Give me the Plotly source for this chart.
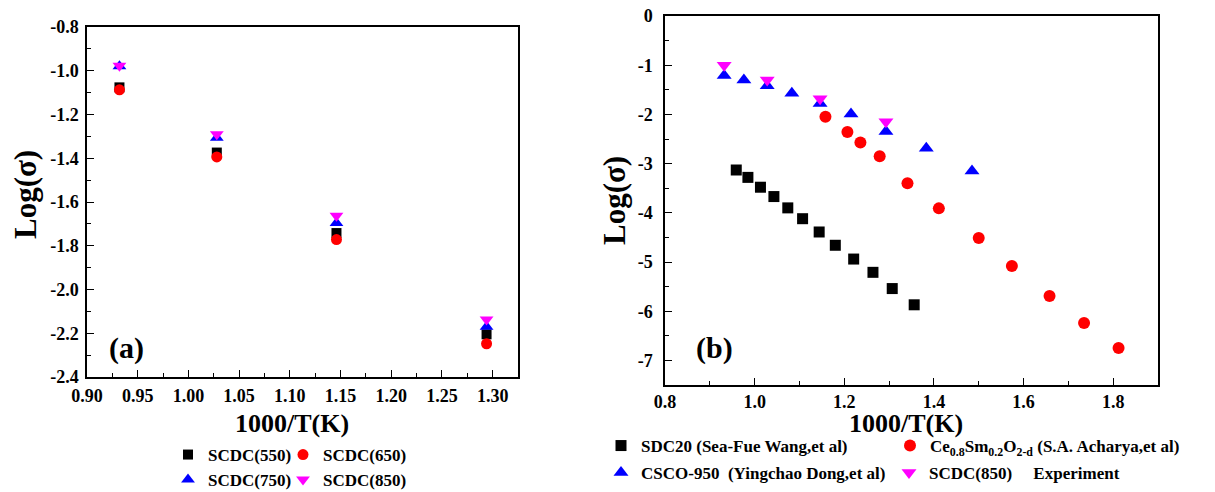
import plotly.graph_objects as go

# ---------------- data ----------------
# panel (a)
x_a = [0.932, 1.028, 1.146, 1.294]
scdc550 = [-1.076, -1.374, -1.742, -2.205]
scdc650 = [-1.087, -1.394, -1.772, -2.248]
scdc750 = [-0.979, -1.306, -1.696, -2.170]
scdc850 = [-0.977, -1.290, -1.663, -2.137]

# panel (b)
x_sdc20 = [0.959, 0.985, 1.013, 1.043, 1.074, 1.107, 1.144, 1.180, 1.221, 1.264, 1.307, 1.356]
y_sdc20 = [-3.13, -3.28, -3.48, -3.67, -3.90, -4.12, -4.39, -4.66, -4.94, -5.21, -5.54, -5.87]
x_ce = [1.158, 1.207, 1.236, 1.279, 1.341, 1.411, 1.500, 1.574, 1.658, 1.735, 1.812]
y_ce = [-2.05, -2.36, -2.57, -2.85, -3.40, -3.91, -4.51, -5.08, -5.69, -6.24, -6.75]
x_csco = [0.932, 0.976, 1.028, 1.083, 1.146, 1.215, 1.293, 1.383, 1.485]
y_csco = [-1.21, -1.30, -1.42, -1.57, -1.78, -1.99, -2.35, -2.69, -3.15]
x_exp = [0.932, 1.028, 1.146, 1.293]
y_exp = [-1.00, -1.30, -1.68, -2.15]

# tick labels
a_xticks = [0.90, 0.95, 1.00, 1.05, 1.10, 1.15, 1.20, 1.25, 1.30]
a_xtext = ["0.90", "0.95", "1.00", "1.05", "1.10", "1.15", "1.20", "1.25", "1.30"]
a_yticks = [-0.8, -1.0, -1.2, -1.4, -1.6, -1.8, -2.0, -2.2, -2.4]
a_ytext = ["-0.8", "-1.0", "-1.2", "-1.4", "-1.6", "-1.8", "-2.0", "-2.2", "-2.4"]
b_xticks = [0.8, 1.0, 1.2, 1.4, 1.6, 1.8]
b_xtext = ["0.8", "1.0", "1.2", "1.4", "1.6", "1.8"]
b_yticks = [0, -1, -2, -3, -4, -5, -6, -7]
b_ytext = ["0", "-1", "-2", "-3", "-4", "-5", "-6", "-7"]

W, H = 1215, 492
FONT = "Liberation Serif, Times New Roman, serif"
NB = "\u00a0"


def px(x):
    return x / W


def py(y):
    return 1 - y / H


fig = go.Figure()

mk = dict(line=dict(width=0))
# panel (a)
fig.add_trace(go.Scatter(x=x_a, y=scdc550, mode="markers", name="SCDC(550)",
                         marker=dict(symbol="square", size=10, color="black", **mk),
                         xaxis="x", yaxis="y", legend="legend"))
fig.add_trace(go.Scatter(x=x_a, y=scdc650, mode="markers", name="SCDC(650)",
                         marker=dict(symbol="circle", size=11, color="#FF0000", **mk),
                         xaxis="x", yaxis="y", legend="legend2"))
fig.add_trace(go.Scatter(x=x_a, y=scdc750, mode="markers", name="SCDC(750)",
                         marker=dict(symbol="triangle-up", size=12, color="#0000FF", **mk),
                         xaxis="x", yaxis="y", legend="legend3"))
fig.add_trace(go.Scatter(x=x_a, y=scdc850, mode="markers", name="SCDC(850)",
                         marker=dict(symbol="triangle-down", size=12, color="#FF00FF", **mk),
                         xaxis="x", yaxis="y", legend="legend4"))

# panel (b)
fig.add_trace(go.Scatter(x=x_sdc20, y=y_sdc20, mode="markers", name="SDC20 (Sea-Fue Wang,et al)",
                         marker=dict(symbol="square", size=11, color="black", **mk),
                         xaxis="x2", yaxis="y2", legend="legend5"))
fig.add_trace(go.Scatter(x=x_ce, y=y_ce, mode="markers",
                         name="Ce<sub>0.8</sub>Sm<sub>0.2</sub>O<sub>2-d</sub> (S.A. Acharya,et al)",
                         marker=dict(symbol="circle", size=12, color="#FF0000", **mk),
                         xaxis="x2", yaxis="y2", legend="legend6"))
fig.add_trace(go.Scatter(x=x_csco, y=y_csco, mode="markers",
                         name="CSCO-950" + NB + NB + "(Yingchao Dong,et al)",
                         marker=dict(symbol="triangle-up", size=13, color="#0000FF", **mk),
                         xaxis="x2", yaxis="y2", legend="legend7"))
fig.add_trace(go.Scatter(x=x_exp, y=y_exp, mode="markers",
                         name="SCDC(850)" + NB * 5 + "Experiment",
                         marker=dict(symbol="triangle-down", size=13, color="#FF00FF", **mk),
                         xaxis="x2", yaxis="y2", legend="legend8"))

tickfont = dict(family=FONT, size=18, color="black", weight="bold")
axis_common = dict(showline=True, linecolor="black", linewidth=1.5, mirror=True,
                   ticks="inside", ticklen=7, tickwidth=1.3, tickcolor="black",
                   showgrid=False, zeroline=False, automargin=False,
                   tickfont=tickfont)

legend_font = dict(family=FONT, size=17, color="black", weight="bold")


def leg(xs, ys):
    return dict(orientation="h", x=px(xs - 20), xanchor="left", y=py(ys), yanchor="middle",
                font=legend_font, bgcolor="rgba(0,0,0,0)", borderwidth=0)


fig.update_layout(
    width=W, height=H,
    margin=dict(l=0, r=0, t=0, b=0, autoexpand=False),
    paper_bgcolor="white", plot_bgcolor="white",
    font=dict(family=FONT, color="black", weight="bold"),
    xaxis=dict(domain=[px(87), px(518)], range=[0.9, 1.325], anchor="y",
               tickvals=a_xticks, ticktext=a_xtext, ticklabelstandoff=2,
               minor=dict(dtick=0.025, tick0=0.9, ticks="inside", ticklen=4, tickcolor="black"),
               **axis_common),
    yaxis=dict(domain=[py(377), py(27)], range=[-2.4, -0.8], anchor="x",
               tickvals=a_yticks, ticktext=a_ytext, ticklabelstandoff=3,
               minor=dict(dtick=0.1, tick0=-0.8, ticks="inside", ticklen=4, tickcolor="black"),
               **axis_common),
    xaxis2=dict(domain=[px(665), px(1158)], range=[0.8, 1.9], anchor="y2",
                tickvals=b_xticks, ticktext=b_xtext, ticklabelstandoff=0,
                minor=dict(dtick=0.1, tick0=0.8, ticks="inside", ticklen=4, tickcolor="black"),
                **axis_common),
    yaxis2=dict(domain=[py(385), py(16)], range=[-7.5, 0], anchor="x2",
                tickvals=b_yticks, ticktext=b_ytext, ticklabelstandoff=7,
                minor=dict(dtick=0.5, tick0=0, ticks="inside", ticklen=4, tickcolor="black"),
                **axis_common),
    legend=leg(188, 455),
    legend2=leg(303, 455),
    legend3=leg(188, 480),
    legend4=leg(303, 480),
    legend5=leg(621, 446),
    legend6=leg(910, 446),
    legend7=leg(621, 473),
    legend8=leg(909, 473),
    showlegend=True,
)

ann_font = dict(family=FONT, color="black", weight="bold")


def ann(text, x, y, size, angle=0):
    fig.add_annotation(text=text, x=px(x), y=py(y), xref="paper", yref="paper",
                       xanchor="center", yanchor="middle", textangle=angle,
                       showarrow=False, font=dict(size=size, **ann_font))


ann("Log(σ)", 25, 195, 31, -90)
ann("Log(σ)", 615, 201, 31, -90)
ann("1000/T(K)", 292, 423, 26)
ann("1000/T(K)", 906, 423, 26)
ann("(a)", 126, 348, 30)
ann("(b)", 714, 348, 30)

fig.write_html("out.html", config={"displayModeBar": False},
               post_script="document.body.style.margin='0';document.body.style.overflow='hidden';")
